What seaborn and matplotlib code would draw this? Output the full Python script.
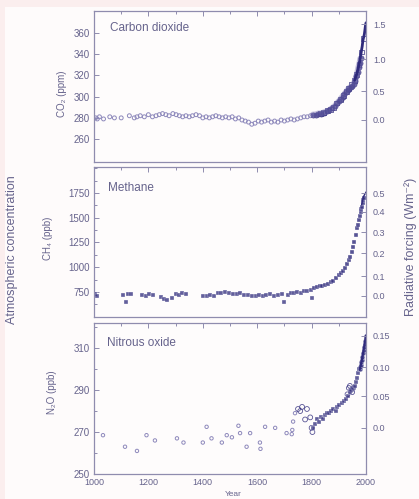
import numpy as np
import pandas as pd
import matplotlib
matplotlib.use("Agg")
import matplotlib.pyplot as plt
from matplotlib.patches import Rectangle
from matplotlib.ticker import MultipleLocator
import seaborn as sns

# ---------------- data ----------------
co2_pre_year = [1006, 1012, 1020, 1035, 1058, 1075, 1100, 1130, 1148, 1158, 1170, 1185, 1200,
                1215, 1228, 1240, 1252, 1264, 1276, 1290, 1302, 1314, 1326, 1338, 1350, 1362,
                1375, 1388, 1400, 1412, 1424, 1436, 1448, 1460, 1472, 1484, 1496, 1508, 1520,
                1532, 1544, 1556, 1568, 1580, 1592, 1604, 1616, 1628, 1640, 1652, 1664, 1676,
                1688, 1700, 1712, 1724, 1736, 1748, 1760, 1772, 1784, 1796]
co2_pre_ppm = [280, 279, 281, 279, 281, 280, 280, 282, 280, 281, 282, 281, 283,
               281, 282, 283, 284, 283, 282, 284, 283, 282, 281, 282, 281, 282,
               283, 282, 280, 281, 280, 281, 282, 281, 280, 281, 280, 281, 279,
               280, 278, 277, 276, 274, 275, 277, 276, 277, 278, 276, 277, 276,
               278, 277, 278, 279, 278, 279, 280, 281, 281, 282]
co2_a_year = [1805, 1815, 1825, 1835, 1845, 1855, 1865, 1875, 1885, 1895, 1902, 1908, 1914,
              1920, 1926, 1932, 1938, 1944, 1950, 1955, 1960, 1965, 1969, 1973, 1977, 1980]
co2_a_ppm = [283, 283, 284, 284, 285, 286, 287, 289, 291, 294, 296, 298, 300,
             302, 304, 306, 308, 309, 310, 312, 315, 319, 323, 328, 332, 336]
co2_b_year = [1832, 1845, 1858, 1870, 1882, 1893, 1905, 1916, 1927, 1937, 1947, 1957, 1966,
              1974, 1983, 1991]
co2_b_ppm = [284, 285, 287, 288, 290, 294, 297, 301, 305, 308, 311, 315, 321, 330, 342, 355]
co2_ml_year = [1958, 1960, 1962, 1964, 1966, 1968, 1970, 1972, 1974, 1976, 1978, 1980, 1982,
               1984, 1986, 1988, 1990, 1992, 1994, 1996, 1998, 2000]
co2_ml_ppm = [315.3, 316.9, 318.4, 319.6, 321.4, 323.0, 325.7, 327.4, 330.2, 332.1, 335.4,
              338.7, 341.1, 344.4, 347.2, 351.6, 354.4, 356.4, 358.8, 362.6, 366.7, 369.4]

ch4_pre_year = [1005, 1012, 1108, 1118, 1126, 1135, 1178, 1190, 1203, 1216, 1245, 1258, 1270,
                1285, 1300, 1312, 1325, 1338, 1402, 1414, 1426, 1440, 1455, 1468, 1482, 1496,
                1510, 1524, 1538, 1552, 1566, 1580, 1594, 1608, 1620, 1634, 1648, 1662, 1676,
                1690, 1700, 1712, 1724, 1736, 1748, 1760, 1772, 1784, 1796, 1802]
ch4_pre_ppb = [730, 705, 715, 650, 730, 725, 720, 712, 725, 715, 695, 680, 670,
               690, 730, 722, 735, 728, 710, 705, 715, 712, 740, 735, 745, 738,
               725, 730, 740, 720, 718, 712, 705, 722, 708, 715, 725, 705, 718,
               730, 650, 722, 735, 740, 748, 742, 755, 760, 770, 690]
ch4_ind_year = [1810, 1820, 1830, 1840, 1850, 1860, 1870, 1880, 1890, 1900, 1908, 1915, 1922,
                1930, 1937, 1943, 1948, 1952, 1957, 1962, 1966, 1970, 1974, 1977, 1980, 1983,
                1985, 1988, 1990, 1992]
ch4_ind_ppb = [790, 800, 810, 815, 825, 830, 850, 865, 890, 920, 940, 965, 995,
               1030, 1070, 1105, 1150, 1200, 1260, 1330, 1400, 1430, 1480, 1520, 1555, 1590,
               1610, 1650, 1680, 1700]
ch4_atm_year = [1984, 1986, 1988, 1990, 1992, 1994, 1996, 1998, 2000]
ch4_atm_ppb = [1630, 1655, 1680, 1705, 1720, 1730, 1740, 1748, 1760]

n2o_pre_year = [1033, 1114, 1158, 1193, 1224, 1305, 1329, 1400, 1414, 1432, 1470, 1488, 1507,
                1531, 1537, 1561, 1574, 1610, 1612, 1629, 1666, 1708, 1727, 1729, 1732, 1739]
n2o_pre_ppb = [268.5, 263, 261, 268.5, 266, 267, 265, 265, 272.5, 267, 265, 268.5, 267.5,
               273, 269.5, 263, 269.5, 265, 262, 272.5, 272, 269.5, 269, 271, 275, 279]
n2o_open_year = [1750, 1758, 1765, 1776, 1783, 1795, 1800, 1803, 1932, 1937, 1941, 1945, 1949, 1953]
n2o_open_ppb = [281, 280, 282, 276, 281, 277, 272, 270, 288, 291, 292, 290, 289, 291]
n2o_ind_year = [1805, 1812, 1820, 1828, 1835, 1842, 1850, 1858, 1865, 1872, 1880, 1888, 1895,
                1902, 1910, 1918, 1925, 1932, 1940, 1946, 1952, 1958, 1963, 1967, 1971, 1975]
n2o_ind_ppb = [272, 274, 276, 275, 277, 276, 278, 279, 279, 280, 281, 280, 282,
               283, 284, 285, 286, 287, 289, 290, 291, 292, 294, 296, 298, 300]
n2o_atm_year = [1977, 1979, 1981, 1983, 1985, 1987, 1989, 1991, 1993, 1995, 1997, 1999, 2000]
n2o_atm_ppb = [300, 301, 302, 303.5, 304.5, 306, 307.5, 309, 310.5, 312, 313.5, 315, 316]

# radiative forcing scale (right axes): forcing values and concentration equivalents
co2_rf = [0.0, 0.5, 1.0, 1.5]
ch4_rf = [0.0, 0.1, 0.2, 0.3, 0.4, 0.5]
ch4_rf_equiv = [710, 910, 1140, 1355, 1560, 1750]
n2o_rf = [0.0, 0.05, 0.10, 0.15]
n2o_rf_labels = ["0.0", "0.05", "0.10", "0.15"]
n2o_rf_equiv = [272, 287, 301, 316]

# ---------------- style ----------------
sns.set_theme(style="white")
plt.rcParams["font.family"] = ["Liberation Sans", "DejaVu Sans"]
TXT = "#66638c"
SPINE = "#8f8cae"
DARK = "#2f2a7c"
LIGHT = "#8d88bb"

W, H = 419, 499
fig = plt.figure(figsize=(W / 100, H / 100), dpi=100)
fig.patch.set_facecolor("#fbeeee")
fig.add_artist(Rectangle((5 / W, 0), 1, 1 - 7 / H, transform=fig.transFigure,
                         facecolor="#fefbfb", edgecolor="none", zorder=-10))


def make_ax(top, bottom):
    ax = fig.add_axes([94 / W, 1 - bottom / H, 272 / W, (bottom - top) / H])
    ax.set_facecolor("#fefcfc")
    for s in ax.spines.values():
        s.set_color(SPINE)
        s.set_linewidth(0.9)
    ax.set_xlim(1000, 2000)
    ax.xaxis.set_major_locator(MultipleLocator(200))
    ax.xaxis.set_minor_locator(MultipleLocator(100))
    ax.tick_params(which="both", direction="in", top=True, colors=SPINE,
                   labelcolor=TXT, labelsize=7, width=0.7)
    ax.tick_params(which="major", length=3.5, pad=3)
    ax.tick_params(which="minor", length=2)
    ax.set_xlabel("")
    ax.set_ylabel("")
    return ax


def right_axis(ax, pos, labels):
    r = ax.twinx()
    r.set_ylim(ax.get_ylim())
    r.set_yticks(pos)
    r.set_yticklabels(labels)
    for s in r.spines.values():
        s.set_visible(False)
    r.tick_params(direction="in", length=3.5, colors=SPINE, labelcolor=TXT,
                  labelsize=6.5, pad=5, width=0.7)
    r.grid(False)
    return r


# ---- CO2 ----
ax1 = make_ax(11, 162)
sns.scatterplot(x=co2_pre_year, y=co2_pre_ppm, ax=ax1, marker="o", s=8,
                facecolor="none", edgecolor=LIGHT, linewidth=0.7, legend=False)
sns.lineplot(x=co2_a_year, y=co2_a_ppm, ax=ax1, color="#7a74b4", lw=4.5, alpha=0.45,
             legend=False)
sns.scatterplot(x=co2_a_year, y=co2_a_ppm, ax=ax1, marker="o", s=14,
                color=DARK, alpha=0.7, edgecolor=DARK, linewidth=0.5, legend=False)
sns.scatterplot(x=co2_b_year, y=co2_b_ppm, ax=ax1, marker="s", s=12,
                facecolor="none", edgecolor=DARK, linewidth=0.6, alpha=0.8, legend=False)
sns.lineplot(x=co2_ml_year, y=co2_ml_ppm, ax=ax1, color=DARK, lw=2.0, legend=False)
ax1.set_ylim(238.5, 380.5)
ax1.set_yticks([260, 280, 300, 320, 340, 360])
ax1.tick_params(axis="x", labelbottom=False)
ax1.text(0.058, 0.887, "Carbon dioxide", transform=ax1.transAxes, color=TXT,
         fontsize=8.5, va="center", ha="left")
right_axis(ax1, [278 * np.exp(v / 5.35) for v in co2_rf], [f"{v:.1f}" for v in co2_rf])

# ---- CH4 ----
ax2 = make_ax(167, 317)
sns.scatterplot(x=ch4_pre_year, y=ch4_pre_ppb, ax=ax2, marker="s", s=6,
                color=DARK, alpha=0.75, linewidth=0.3, legend=False)
sns.scatterplot(x=ch4_ind_year, y=ch4_ind_ppb, ax=ax2, marker="s", s=8,
                color=DARK, alpha=0.8, linewidth=0.3, legend=False)
sns.lineplot(x=ch4_atm_year, y=ch4_atm_ppb, ax=ax2, color=DARK, lw=1.0, legend=False)
ax2.set_ylim(497, 2013)
ax2.set_yticks([750, 1000, 1250, 1500, 1750])
ax2.yaxis.set_minor_locator(MultipleLocator(125))
ax2.tick_params(axis="x", labelbottom=False)
ax2.text(0.052, 0.86, "Methane", transform=ax2.transAxes, color=TXT,
         fontsize=8.5, va="center", ha="left")
right_axis(ax2, ch4_rf_equiv, [f"{v:.1f}" for v in ch4_rf])

# ---- N2O ----
ax3 = make_ax(323, 474)
sns.scatterplot(x=n2o_pre_year, y=n2o_pre_ppb, ax=ax3, marker="o", s=6,
                facecolor="none", edgecolor=LIGHT, linewidth=0.7, legend=False)
sns.scatterplot(x=n2o_open_year, y=n2o_open_ppb, ax=ax3, marker="o", s=12,
                facecolor="none", edgecolor=DARK, linewidth=0.6, alpha=0.8, legend=False)
sns.scatterplot(x=n2o_ind_year, y=n2o_ind_ppb, ax=ax3, marker="s", s=8,
                color=DARK, alpha=0.75, linewidth=0.3, legend=False)
sns.scatterplot(x=n2o_atm_year, y=n2o_atm_ppb, ax=ax3, marker="o", s=12,
                color=DARK, alpha=0.8, linewidth=0.3, legend=False)
sns.lineplot(x=n2o_atm_year, y=n2o_atm_ppb, ax=ax3, color=DARK, lw=1.6, legend=False)
ax3.set_ylim(250, 322)
ax3.set_yticks([250, 270, 290, 310])
ax3.yaxis.set_minor_locator(MultipleLocator(10))
ax3.tick_params(axis="x", labelsize=6.5)
ax3.text(0.048, 0.868, "Nitrous oxide", transform=ax3.transAxes, color=TXT,
         fontsize=8.5, va="center", ha="left")
right_axis(ax3, n2o_rf_equiv, n2o_rf_labels)

# ---- labels ----
fig.text(62 / W, 1 - 94 / H, "CO₂ (ppm)", rotation=90, ha="center", va="center",
         color=TXT, fontsize=7)
fig.text(48 / W, 1 - 238 / H, "CH₄ (ppb)", rotation=90, ha="center", va="center",
         color=TXT, fontsize=7)
fig.text(52 / W, 1 - 392 / H, "N₂O (ppb)", rotation=90, ha="center", va="center",
         color=TXT, fontsize=7)
fig.text(12 / W, 1 - 250 / H, "Atmospheric concentration", rotation=90, ha="center",
         va="center", color=TXT, fontsize=9)
fig.text(411 / W, 1 - 247 / H, "Radiative forcing (Wm⁻²)", rotation=90, ha="center",
         va="center", color=TXT, fontsize=9)
fig.text(233 / W, 1 - 494 / H, "Year", ha="center", va="center", color=TXT, fontsize=6)

fig.savefig("out.png", dpi=100, facecolor=fig.get_facecolor())
